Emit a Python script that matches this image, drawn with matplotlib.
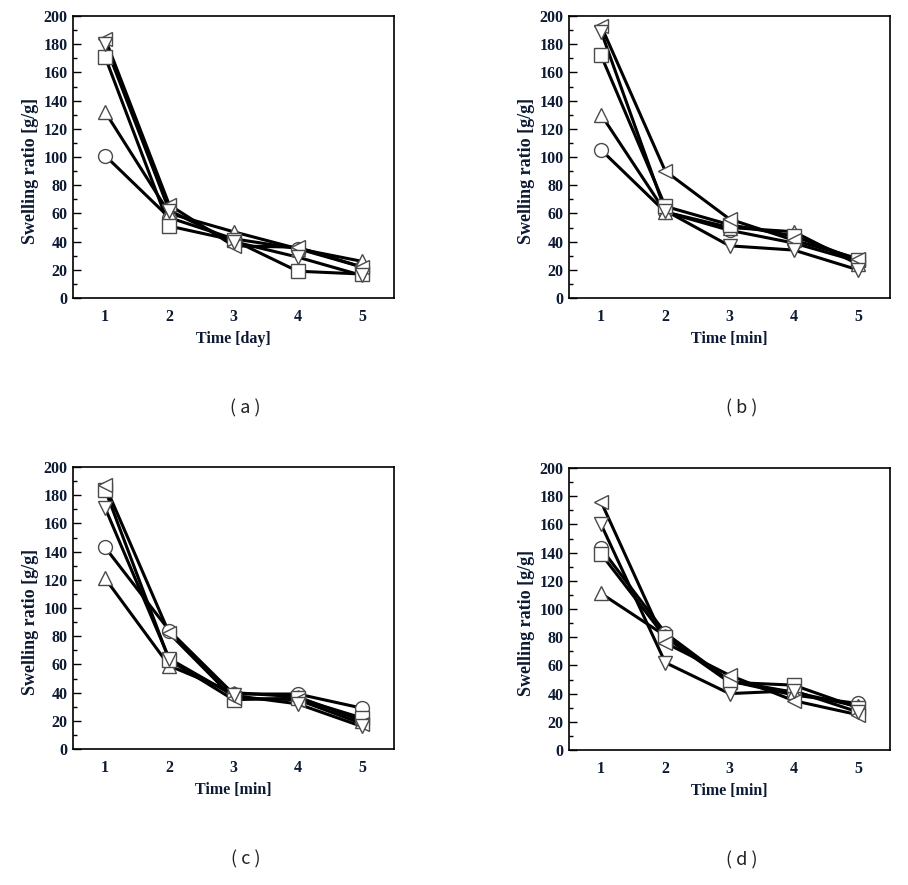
import matplotlib
matplotlib.use("Agg")
import matplotlib.pyplot as plt
from matplotlib.ticker import MultipleLocator

INK = "#0d1a33"
EDGE = "#4a4a4a"

days = [1, 2, 3, 4, 5]
markers = ["o", "^", "s", "<", "v"]

# panel (a) -- Time [day]
a_circle = [101, 57, 42, 35, 22]
a_up = [132, 60, 47, 35, 26]
a_square = [171, 51, 41, 19, 17]
a_left = [184, 66, 37, 36, 22]
a_down = [180, 62, 40, 29, 16]

# panel (b)
b_circle = [105, 61, 48, 39, 26]
b_up = [130, 61, 50, 47, 24]
b_square = [172, 65, 52, 44, 27]
b_left = [193, 90, 56, 41, 28]
b_down = [189, 62, 37, 34, 20]

# panel (c)
c_circle = [143, 84, 39, 39, 29]
c_up = [121, 59, 40, 37, 20]
c_square = [184, 63, 35, 36, 22]
c_left = [187, 82, 36, 35, 18]
c_down = [171, 64, 38, 32, 16]

# panel (d)
d_circle = [143, 83, 49, 39, 33]
d_up = [111, 81, 49, 41, 31]
d_square = [139, 80, 48, 46, 30]
d_left = [176, 76, 53, 35, 25]
d_down = [160, 62, 40, 42, 27]

panels = [
    ("a", "Time [day]", [a_circle, a_up, a_square, a_left, a_down]),
    ("b", "Time [min]", [b_circle, b_up, b_square, b_left, b_down]),
    ("c", "Time [min]", [c_circle, c_up, c_square, c_left, c_down]),
    ("d", "Time [min]", [d_circle, d_up, d_square, d_left, d_down]),
]

W, H = 908, 885
# axes boxes in pixels: left, top, right, bottom
boxes = [(73, 16, 394, 298), (569, 16, 890, 298),
         (73, 467, 394, 749), (569, 468, 890, 750)]

fig = plt.figure(figsize=(W / 100, H / 100), dpi=100)

for (tag, xlab, series), (l, t, r, b) in zip(panels, boxes):
    ax = fig.add_axes([l / W, 1 - b / H, (r - l) / W, (b - t) / H])
    for ys, m in zip(series, markers):
        ax.plot(days, ys, color="black", lw=2.2, zorder=2)
        ax.plot(days, ys, ls="none", marker=m, ms=10, mfc="white",
                mec=EDGE, mew=1.0, zorder=3)
    ax.set_xlim(0.5, 5.5)
    ax.set_ylim(0, 200)
    ax.yaxis.set_major_locator(MultipleLocator(20))
    ax.yaxis.set_minor_locator(MultipleLocator(10))
    ax.set_xticks(days)
    ax.tick_params(axis="y", which="major", direction="in", length=6, width=1, pad=4)
    ax.tick_params(axis="y", which="minor", direction="in", length=3, width=1)
    ax.tick_params(axis="x", length=0, pad=8)
    for lab in ax.get_xticklabels() + ax.get_yticklabels():
        lab.set_fontfamily("Liberation Serif")
        lab.set_fontweight("bold")
        lab.set_fontsize(11.5)
        lab.set_color(INK)
    for s in ax.spines.values():
        s.set_linewidth(1.2)
    ax.set_xlabel(xlab, family="Liberation Serif", fontweight="bold",
                  fontsize=11.5, color=INK, labelpad=4)
    ax.set_ylabel("Swelling ratio [g/g]", family="Liberation Serif",
                  fontweight="bold", fontsize=13, color=INK)
    ax.yaxis.set_label_coords(-0.105, 0.45)
    fig.text((l + r) / 2 / W + 0.013, 1 - (b + 110) / H, f"( {tag} )",
             ha="center", va="center", fontsize=13,
             family=["Noto Sans CJK KR", "DejaVu Sans"], fontweight="light",
             color="#222222")

fig.savefig("out.png", dpi=100)
